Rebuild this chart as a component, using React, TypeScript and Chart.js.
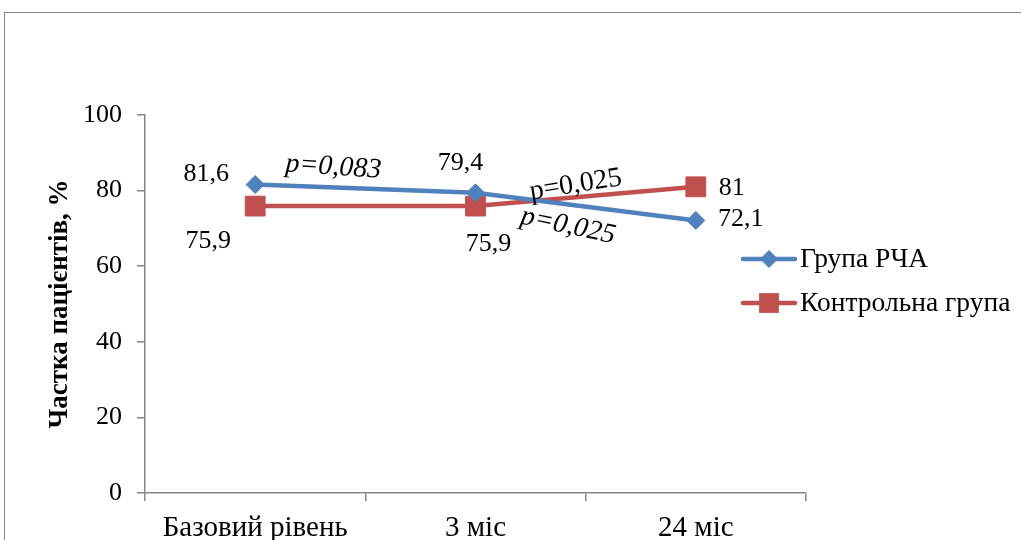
import React, { useEffect, useRef } from "react";
import { Chart, registerables } from "chart.js";
Chart.register(...registerables);

const categories = ["Базовий рівень", "3 міс", "24 міс"];
const seriesNames = ["Група РЧА", "Контрольна група"];
const rchaValues = [81.6, 79.4, 72.1];
const controlValues = [75.9, 75.9, 81];
const rchaLabels = ["81,6", "79,4", "72,1"];
const controlLabels = ["75,9", "75,9", "81"];
const yTickValues = [0, 20, 40, 60, 80, 100];
const yTitle = "Частка пацієнтів, %";
// p-value notes: text, category position (fractional index), value, angle in degrees, italic
const pNotes = [
  { text: "p=0,083", idx: 0.355, value: 86.2, angle: 4, italic: true },
  { text: "p=0,025", idx: 1.455, value: 81.5, angle: -9, italic: false },
  { text: "p=0,025", idx: 1.42, value: 70.6, angle: 12, italic: true },
];

const FONT = "'Liberation Serif', 'Times New Roman', serif";
const BLUE = "#4F81BD";
const RED = "#C0504D";
const AXIS = "#868686";

// pixel offsets of data labels from their points
const rchaLabelOffsets = [[-49, -10], [-15, -30], [45, -1]];
const controlLabelOffsets = [[-47, 35], [13, 38], [36, 1]];

const framePlugin = {
  id: "frame",
  beforeDraw(chart: any) {
    const ctx = chart.ctx;
    ctx.save();
    ctx.fillStyle = "#fff";
    ctx.fillRect(0, 0, chart.width, chart.height);
    ctx.strokeStyle = AXIS;
    ctx.lineWidth = 1;
    ctx.strokeRect(4.5, 12.5, 1200, 700);
    ctx.restore();
  },
};

const labelsPlugin = {
  id: "labelsAndNotes",
  afterDatasetsDraw(chart: any) {
    const ctx = chart.ctx;
    const xs = chart.scales.x;
    const ys = chart.scales.y;
    ctx.save();
    ctx.fillStyle = "#000";
    ctx.textAlign = "center";
    ctx.textBaseline = "middle";
    ctx.font = `26px ${FONT}`;
    const sets = [
      { labels: rchaLabels, offs: rchaLabelOffsets, di: 0 },
      { labels: controlLabels, offs: controlLabelOffsets, di: 1 },
    ];
    sets.forEach((s) => {
      const meta = chart.getDatasetMeta(s.di);
      meta.data.forEach((pt: any, i: number) => {
        ctx.fillText(s.labels[i], pt.x + s.offs[i][0], pt.y + s.offs[i][1]);
      });
    });
    pNotes.forEach((n) => {
      const x = xs.getPixelForValue(n.idx);
      const y = ys.getPixelForValue(n.value);
      ctx.save();
      ctx.translate(x, y);
      ctx.rotate((n.angle * Math.PI) / 180);
      ctx.font = `${n.italic ? "italic " : ""}28px ${FONT}`;
      ctx.fillText(n.text, 0, 0);
      ctx.restore();
    });
    // legend
    const items = [
      { name: seriesNames[0], color: BLUE, style: "rectRot", r: 9 },
      { name: seriesNames[1], color: RED, style: "rect", r: 14 },
    ];
    items.forEach((it, k) => {
      const y = 259 + k * 44;
      ctx.strokeStyle = it.color;
      ctx.lineWidth = 4.5;
      ctx.lineCap = "round";
      ctx.beginPath();
      ctx.moveTo(743, y);
      ctx.lineTo(795, y);
      ctx.stroke();
      ctx.fillStyle = it.color;
      ctx.beginPath();
      if (it.style === "rectRot") {
        ctx.moveTo(769 - it.r, y);
        ctx.lineTo(769, y - it.r);
        ctx.lineTo(769 + it.r, y);
        ctx.lineTo(769, y + it.r);
        ctx.closePath();
      } else {
        const h = it.r * Math.SQRT1_2;
        ctx.rect(769 - h, y - h, 2 * h, 2 * h);
      }
      ctx.fill();
      ctx.fillStyle = "#000";
      ctx.textAlign = "left";
      ctx.font = `27.5px ${FONT}`;
      ctx.fillText(it.name, 800, y + 1);
    });
    ctx.restore();
  },
};

export default function App() {
  const ref = useRef<HTMLCanvasElement>(null);
  useEffect(() => {
    if (!ref.current) return;
    const chart = new Chart(ref.current, {
      type: "line",
      data: {
        labels: categories,
        datasets: [
          {
            label: seriesNames[0],
            data: rchaValues,
            borderColor: BLUE,
            backgroundColor: BLUE,
            borderWidth: 4.5,
            pointStyle: "rectRot",
            pointRadius: 9,
            pointBorderWidth: 1,
            pointBackgroundColor: BLUE,
            pointBorderColor: BLUE,
            tension: 0,
          },
          {
            label: seriesNames[1],
            data: controlValues,
            borderColor: RED,
            backgroundColor: RED,
            borderWidth: 4.5,
            pointStyle: "rect",
            pointRadius: 14,
            pointBorderWidth: 1,
            pointBackgroundColor: RED,
            pointBorderColor: RED,
            tension: 0,
          },
        ],
      },
      options: {
        animation: false,
        responsive: false,
        devicePixelRatio: 1,
        layout: { padding: { top: 115, left: 0, right: 215, bottom: 0 } },
        plugins: { legend: { display: false }, tooltip: { enabled: false } },
        scales: {
          x: {
            type: "category",
            offset: true,
            grid: {
              offset: true,
              drawOnChartArea: false,
              drawTicks: true,
              tickLength: 8,
              color: AXIS,
              lineWidth: 1.5,
            },
            border: { display: true, color: AXIS, width: 1.5 },
            ticks: {
              color: "#000",
              font: { family: FONT, size: 29 },
              padding: 10,
              maxRotation: 0,
              autoSkip: false,
            },
            afterFit: (s: any) => {
              s.height = 47;
            },
          },
          y: {
            min: 0,
            max: 100,
            afterBuildTicks: (s: any) => {
              s.ticks = yTickValues.map((v) => ({ value: v }));
            },
            grid: {
              drawOnChartArea: false,
              drawTicks: true,
              tickLength: 8,
              color: AXIS,
              lineWidth: 1.5,
            },
            border: { display: true, color: AXIS, width: 1.5 },
            ticks: {
              color: "#000",
              font: { family: FONT, size: 26 },
              padding: 15,
            },
            title: {
              display: true,
              text: yTitle,
              color: "#000",
              font: { family: FONT, size: 27, weight: "bold" },
              padding: { top: 44, bottom: 0 },
            },
            afterFit: (s: any) => {
              s.width = 145;
            },
          },
        },
      },
      plugins: [framePlugin, labelsPlugin],
    } as any);
    return () => chart.destroy();
  }, []);
  return (
    <div style={{ position: "fixed", left: 0, top: 0, width: 1021, height: 540, background: "#fff" }}>
      <canvas ref={ref} width={1021} height={540} style={{ display: "block" }} />
    </div>
  );
}
